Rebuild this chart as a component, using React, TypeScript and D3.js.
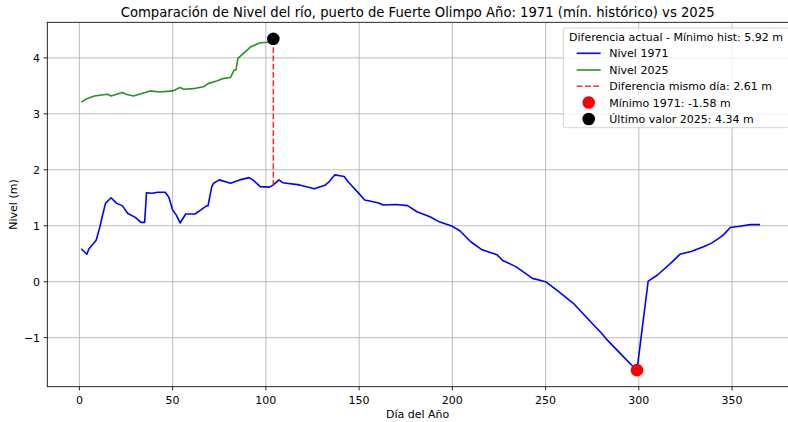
import React from "react";
import * as d3 from "d3";

const TITLE = "Comparación de Nivel del río, puerto de Fuerte Olimpo Año: 1971 (mín. histórico) vs 2025";
const X_LABEL = "Día del Año";
const Y_LABEL = "Nivel (m)";
const X_TICKS = [0, 50, 100, 150, 200, 250, 300, 350];
const Y_TICKS = [-1, 0, 1, 2, 3, 4];

const days1971 = [1, 4, 5, 7, 9, 11, 12, 14, 17, 20, 23, 26, 30, 33, 35, 36, 39, 42, 46, 48, 50, 52, 54, 57, 62, 65, 68, 69, 71, 72, 75, 81, 86, 91, 93, 97, 102, 104, 107, 109, 118, 126, 132, 134, 137, 142, 144, 149, 153, 160, 163, 170, 176, 181, 188, 193, 200, 204, 210, 216, 224, 227, 234, 243, 250, 256, 265, 274, 280, 283, 290, 297, 299, 305, 310, 313, 318, 322, 328, 335, 339, 344, 346, 349, 354, 360, 365];
const level1971 = [0.59, 0.49, 0.58, 0.66, 0.74, 0.98, 1.13, 1.40, 1.50, 1.40, 1.36, 1.22, 1.15, 1.06, 1.06, 1.59, 1.58, 1.60, 1.60, 1.51, 1.28, 1.19, 1.05, 1.21, 1.21, 1.28, 1.35, 1.36, 1.70, 1.76, 1.82, 1.76, 1.82, 1.86, 1.82, 1.70, 1.69, 1.73, 1.82, 1.77, 1.73, 1.66, 1.73, 1.79, 1.91, 1.88, 1.79, 1.61, 1.46, 1.41, 1.37, 1.38, 1.36, 1.25, 1.16, 1.07, 0.99, 0.91, 0.71, 0.57, 0.48, 0.38, 0.27, 0.06, 0.00, -0.15, -0.39, -0.71, -0.92, -1.04, -1.28, -1.52, -1.58, 0.01, 0.12, 0.21, 0.36, 0.49, 0.54, 0.63, 0.69, 0.80, 0.86, 0.97, 0.99, 1.02, 1.02];

const days2025 = [1, 4, 8, 15, 17, 23, 25, 29, 33, 38, 43, 50, 54, 56, 61, 67, 69, 74, 77, 81, 83, 84, 85, 88, 92, 97, 101, 104];
const level2025 = [3.21, 3.27, 3.32, 3.35, 3.32, 3.38, 3.35, 3.32, 3.36, 3.41, 3.39, 3.41, 3.47, 3.44, 3.45, 3.49, 3.54, 3.59, 3.63, 3.65, 3.78, 3.79, 3.99, 4.08, 4.20, 4.27, 4.28, 4.34];

const MIN_DAY = 299;
const MIN_VALUE = -1.58;
const LAST_DAY = 104;
const LAST_VALUE = 4.34;
const SAME_DAY_1971 = 1.73;

const LEGEND_TITLE = "Diferencia actual - Mínimo hist: 5.92 m";
const LEGEND_LABELS = ["Nivel 1971", "Nivel 2025", "Diferencia mismo día: 2.61 m", "Mínimo 1971: -1.58 m", "Último valor 2025: 4.34 m"];

const FONT = "DejaVu Sans, sans-serif";

export default function App() {
  const W = 788, H = 422;
  const L = 47.3, R = 794, T = 22.3, B = 386.7;
  const x = d3.scaleLinear().domain([-17.2, 383.2]).range([L, R]);
  const y = d3.scaleLinear().domain([-1.876, 4.636]).range([B, T]);

  const d71 = days1971.map((d, i) => [d, level1971[i]] as [number, number]);
  const d25 = days2025.map((d, i) => [d, level2025[i]] as [number, number]);
  const line = d3.line<[number, number]>().x(d => x(d[0])).y(d => y(d[1]));

  const legendX = 563.3, legendY = 28, legendW = 225.4, legendH = 99.7;
  const rowY = [53.3, 70, 86.3, 102.5, 119];
  const handleX0 = 576.7, handleX1 = 600.7, textX = 609.3;
  const FS = 11;

  return (
    <svg width={W} height={H} style={{ position: "absolute", left: 0, top: 0 }} fontFamily={FONT}>
      <rect x={0} y={0} width={W} height={H} fill="#fff" />
      <defs>
        <clipPath id="ax">
          <rect x={L} y={T} width={R - L} height={B - T} />
        </clipPath>
      </defs>
      {X_TICKS.map(t => (
        <line key={"gx" + t} x1={x(t)} x2={x(t)} y1={T} y2={B} stroke="#b0b0b0" strokeWidth={0.84} />
      ))}
      {Y_TICKS.map(t => (
        <line key={"gy" + t} x1={L} x2={R} y1={y(t)} y2={y(t)} stroke="#b0b0b0" strokeWidth={0.84} />
      ))}
      <g clipPath="url(#ax)">
        <path d={line(d71) || ""} fill="none" stroke="#0000ff" strokeWidth={1.6} strokeLinejoin="round" />
        <path d={line(d25) || ""} fill="none" stroke="#008000" strokeWidth={1.6} strokeLinejoin="round" strokeOpacity={0.85} />
        <line x1={x(LAST_DAY)} x2={x(LAST_DAY)} y1={y(LAST_VALUE)} y2={y(SAME_DAY_1971)} stroke="#ff0000" strokeOpacity={0.8} strokeWidth={1.6} strokeDasharray="5.8,2.5" />
        <circle cx={x(MIN_DAY)} cy={y(MIN_VALUE)} r={6.3} fill="#ff0000" />
        <circle cx={x(LAST_DAY)} cy={y(LAST_VALUE)} r={6.3} fill="#000000" />
      </g>
      <rect x={L} y={T} width={R - L} height={B - T} fill="none" stroke="#000" strokeWidth={0.84} />
      {X_TICKS.map(t => (
        <g key={"tx" + t}>
          <line x1={x(t)} x2={x(t)} y1={B} y2={B + 3.7} stroke="#000" strokeWidth={0.84} />
          <text x={x(t)} y={403.5} fontSize={FS} textAnchor="middle" fill="#000">{t}</text>
        </g>
      ))}
      {Y_TICKS.map(t => (
        <g key={"ty" + t}>
          <line x1={L - 3.7} x2={L} y1={y(t)} y2={y(t)} stroke="#000" strokeWidth={0.84} />
          <text x={L - 7.2} y={y(t) + 4} fontSize={FS} textAnchor="end" fill="#000">{t < 0 ? "\u2212" + Math.abs(t) : t}</text>
        </g>
      ))}
      <text x={(L + R) / 2 - 3} y={417.5} fontSize={FS} textAnchor="middle" fill="#000">{X_LABEL}</text>
      <text transform={`translate(17,${(T + B) / 2}) rotate(-90)`} fontSize={FS} textAnchor="middle" fill="#000">{Y_LABEL}</text>
      <text x={(L + R) / 2 - 3} y={16.5} fontSize={13.2} textAnchor="middle" fill="#000">{TITLE}</text>
      <rect x={legendX} y={legendY} width={legendW} height={legendH} rx={2} fill="#fff" fillOpacity={0.8} stroke="#cccccc" strokeWidth={0.84} />
      <text x={legendX + legendW / 2} y={40.8} fontSize={FS} textAnchor="middle" fill="#000">{LEGEND_TITLE}</text>
      <line x1={handleX0} x2={handleX1} y1={rowY[0]} y2={rowY[0]} stroke="#0000ff" strokeWidth={1.6} />
      <line x1={handleX0} x2={handleX1} y1={rowY[1]} y2={rowY[1]} stroke="#008000" strokeOpacity={0.85} strokeWidth={1.6} />
      <line x1={handleX0} x2={handleX1} y1={rowY[2]} y2={rowY[2]} stroke="#ff0000" strokeOpacity={0.8} strokeWidth={1.6} strokeDasharray="5.8,2.5" />
      <circle cx={(handleX0 + handleX1) / 2} cy={rowY[3]} r={6.3} fill="#ff0000" />
      <circle cx={(handleX0 + handleX1) / 2} cy={rowY[4]} r={6.3} fill="#000" />
      {LEGEND_LABELS.map((s, i) => (
        <text key={s} x={textX} y={rowY[i] + 4} fontSize={FS} fill="#000">{s}</text>
      ))}
    </svg>
  );
}
